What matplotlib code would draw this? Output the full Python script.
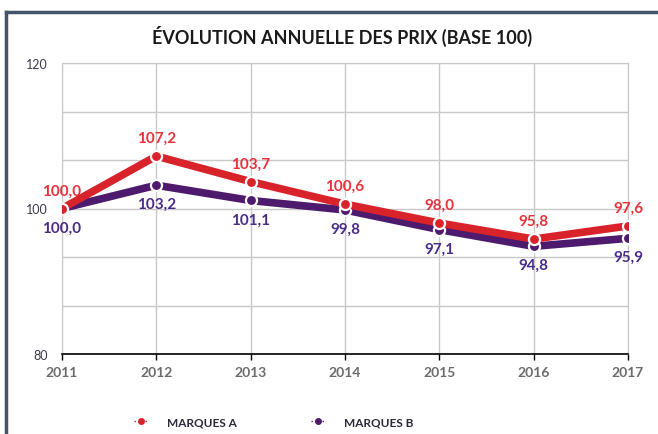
import matplotlib.pyplot as plt
from matplotlib.lines import Line2D
import numpy as np

plt.rcParams['font.family'] = ['Lato', 'DejaVu Sans']

years = ['2011', '2012', '2013', '2014', '2015', '2016', '2017']
marques_a = [100.0, 107.2, 103.7, 100.6, 98.0, 95.8, 97.6]
marques_b = [100.0, 103.2, 101.1, 99.8, 97.1, 94.8, 95.9]
y_ticks = [80, 100, 120]

red = '#d9232b'
purple = '#4e1a6e'
red_txt = '#e8323c'
purple_txt = '#4a2c8a'

fig = plt.figure(figsize=(6.58, 4.35), dpi=100)
ax = fig.add_axes([62/658., 1-355/435., (628-62)/658., (355-64)/435.])

x = np.arange(len(years))

ax.plot(x, marques_b, color=purple, lw=5.5, marker='o', ms=8, mfc=purple,
        mec='white', mew=1.6, solid_capstyle='butt', zorder=3)
ax.plot(x, marques_a, color=red, lw=5.5, marker='o', ms=8, mfc=red,
        mec='white', mew=1.6, solid_capstyle='butt', zorder=4)

# value labels
for i in range(len(x)):
    ax.annotate(('%.1f' % marques_a[i]).replace('.', ','), (x[i], marques_a[i]),
                xytext=(0, 8), textcoords='offset points', ha='center',
                va='bottom', color=red_txt, fontsize=11, fontweight='bold')
    ax.annotate(('%.1f' % marques_b[i]).replace('.', ','), (x[i], marques_b[i]),
                xytext=(0, -8.5), textcoords='offset points', ha='center',
                va='top', color=purple_txt, fontsize=11, fontweight='bold')

ax.set_xlim(0, len(years)-1)
ax.set_ylim(80, 120)
ax.set_yticks(np.linspace(80, 120, 7), minor=True)
ax.set_yticks(y_ticks)
ax.set_yticklabels([str(v) for v in y_ticks], fontsize=9, color='#3a3a4a')
ax.set_xticks(x)
ax.set_xticklabels(years, fontsize=10, color='#6b6b6b', fontweight='bold')

ax.grid(True, which='both', axis='y', color='#c8c8c8', lw=1)
ax.grid(True, axis='x', color='#c8c8c8', lw=1)
ax.set_axisbelow(True)
for s in ['top', 'right', 'left']:
    ax.spines[s].set_color('#c8c8c8')
ax.spines['bottom'].set_color('black')
ax.spines['bottom'].set_linewidth(1.2)
ax.tick_params(axis='y', which='both', length=0, pad=10)
ax.tick_params(axis='x', length=4, width=1, color='black', pad=5)

fig.text(342/658., 1-36/435., u'ÉVOLUTION ANNUELLE DES PRIX (BASE 100)',
         ha='center', va='center', fontsize=13, fontweight='bold', color='#1a1a1a')

# legend
h1 = Line2D([], [], color=red, ls=':', lw=1, marker='o', ms=4)
h2 = Line2D([], [], color=purple, ls=':', lw=1, marker='o', ms=4)
fig.legend([h1, h2], ['MARQUES A', 'MARQUES B'], loc='center',
           bbox_to_anchor=(0.416, 1-423/435.), ncol=2, frameon=False,
           prop={'size': 8.5, 'weight': 'bold'}, labelcolor='#2a2a3a',
           handlelength=1.2, columnspacing=6.3, handletextpad=1.6)

# frame border
fig.add_artist(Line2D([6/658., 1], [1-13/435., 1-13/435.], color='#44546a', lw=2.5,
                      transform=fig.transFigure))
fig.add_artist(Line2D([6/658., 6/658.], [0, 1-13/435.], color='#44546a', lw=2.5,
                      transform=fig.transFigure))

fig.savefig('out.png', dpi=100, facecolor='w')
